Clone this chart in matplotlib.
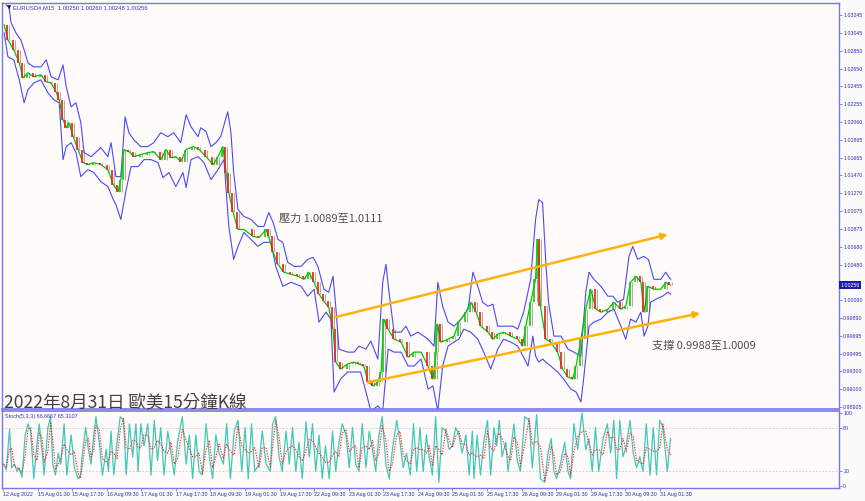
import matplotlib
matplotlib.use("Agg")
import matplotlib.pyplot as plt
import pandas as pd

plt.rcParams["font.family"] = ["Noto Sans CJK TC", "DejaVu Sans"]

# ---- data: x = 15-minute bar number counted from 12 Aug 2022 ----
price_bar = [2, 9, 20, 30, 37, 46, 57, 70, 80, 89, 98, 104, 111, 117, 122, 130, 139, 148, 157, 168,
             181, 194, 204, 213, 218, 224, 233, 242, 255, 268, 279, 292, 302, 311, 320, 329, 339, 352, 363, 376,
             389, 398, 407, 413, 418, 426, 435, 446, 463, 474, 487, 492, 500, 509, 520, 533, 546, 557, 566, 576,
             585, 594, 603, 611, 616, 625, 638, 650, 659, 668, 676, 685, 694, 700, 705, 713, 724, 737, 750, 761,
             774, 787, 796, 802, 804, 811, 824, 835, 844, 857, 866, 876, 885, 898, 907, 916, 927, 940, 953, 962,
             968, 977, 986, 990, 995, 1005, 1014, 1027, 1036, 1046, 1055, 1061, 1070, 1079, 1088, 1098, 1107, 1120, 1131, 1144,
             1153, 1162, 1172, 1181, 1187, 1194, 1205, 1218, 1227, 1236]
price = [1.03135, 1.02969, 1.02859, 1.02715, 1.02549, 1.02605, 1.02561, 1.02583, 1.02505, 1.02494,
         1.02395, 1.02307, 1.02086, 1.01997, 1.02053, 1.01898, 1.01755, 1.01611, 1.01589, 1.01611,
         1.01589, 1.01534, 1.01368, 1.01291, 1.01423, 1.01755, 1.01733, 1.01677, 1.01699, 1.01721,
         1.01733, 1.01644, 1.01755, 1.01666, 1.01677, 1.01622, 1.01755, 1.01788, 1.01755, 1.01677,
         1.01589, 1.01677, 1.01788, 1.01501, 1.01280, 1.01059, 1.00871, 1.00871, 1.00794, 1.00783,
         1.00871, 1.00794, 1.00617, 1.00485, 1.00397, 1.00375, 1.00353, 1.00319, 1.00397, 1.00286,
         1.00154, 1.00077, 1.00010, 0.99767, 0.99403, 0.99326, 0.99381, 0.99403, 0.99381, 0.99359,
         0.99182, 0.99138, 0.99182, 0.99293, 0.99878, 0.99767, 0.99657, 0.99624, 0.99458, 0.99513,
         0.99513, 0.99359, 0.99215, 0.99513, 0.99823, 0.99624, 0.99657, 0.99690, 0.99845, 0.99955,
         1.00065, 0.99955, 0.99800, 0.99734, 0.99657, 0.99712, 0.99734, 0.99690, 0.99657, 0.99580,
         0.99800, 1.00065, 1.00319, 1.00761, 1.00021, 0.99657, 0.99624, 0.99513, 0.99326, 0.99237,
         0.99215, 0.99359, 0.99657, 0.99988, 1.00209, 0.99988, 0.99955, 0.99988, 1.00065, 0.99988,
         1.00021, 1.00286, 1.00353, 1.00286, 0.99955, 1.00242, 1.00209, 1.00209, 1.00286, 1.00253]

upper_bar = [6, 11, 15, 24, 33, 39, 46, 57, 70, 80, 89, 102, 111, 117, 126, 135, 144, 150, 163, 181,
             194, 200, 209, 218, 226, 233, 242, 255, 268, 279, 292, 305, 316, 329, 339, 348, 361, 366, 376, 385,
             394, 403, 416, 422, 427, 435, 446, 459, 472, 483, 492, 500, 509, 518, 527, 539, 552, 564, 574, 583,
             594, 603, 611, 616, 622, 638, 650, 659, 672, 681, 694, 703, 709, 714, 724, 737, 746, 755, 768, 779,
             787, 798, 805, 814, 824, 835, 848, 861, 870, 879, 888, 898, 907, 916, 931, 944, 953, 964, 977, 986,
             992, 999, 1005, 1010, 1020, 1033, 1046, 1057, 1070, 1079, 1085, 1094, 1107, 1120, 1129, 1138, 1149, 1159, 1166, 1175,
             1186, 1195, 1205, 1218, 1227, 1236]
upper_band = [1.03355, 1.03333, 1.03157, 1.03046, 1.02969, 1.02859, 1.02715, 1.02671, 1.02671, 1.02748,
              1.02561, 1.02527, 1.02693, 1.02450, 1.02229, 1.02273, 1.02053, 1.01721, 1.01677, 1.01777,
              1.01677, 1.01832, 1.01456, 1.01456, 1.02119, 1.01942, 1.01865, 1.01788, 1.01788, 1.01832,
              1.01942, 1.01898, 1.01942, 1.01832, 1.02141, 1.02008, 1.01898, 1.01997, 1.01953, 1.01788,
              1.01832, 1.01898, 1.02174, 1.01942, 1.01501, 1.01092, 1.01015, 1.00982, 1.00904, 1.00904,
              1.01059, 1.00948, 1.00761, 1.00728, 1.00507, 1.00463, 1.00463, 1.00540, 1.00562, 1.00463,
              1.00209, 1.00176, 1.00353, 1.00021, 0.99546, 0.99513, 0.99513, 0.99580, 0.99546, 0.99635,
              0.99436, 1.00286, 1.00485, 1.00209, 0.99734, 0.99734, 0.99800, 0.99690, 0.99734, 0.99690,
              0.99657, 0.99580, 1.00286, 1.00021, 0.99845, 0.99800, 0.99878, 0.99988, 1.00397, 1.00242,
              1.00065, 1.00021, 1.00043, 0.99800, 0.99800, 0.99800, 0.99767, 0.99955, 1.00319, 1.00982,
              1.01202, 1.01169, 1.00507, 1.00065, 0.99690, 0.99690, 0.99546, 0.99513, 0.99469, 1.00176,
              1.00397, 1.00319, 1.00242, 1.00132, 1.00132, 1.00065, 1.00099, 1.00573, 1.00684, 1.00540,
              1.00573, 1.00540, 1.00319, 1.00319, 1.00397, 1.00319]

lower_bar = [2, 9, 20, 30, 39, 46, 57, 70, 83, 94, 104, 111, 117, 126, 135, 144, 157, 168, 181, 194,
             204, 209, 218, 228, 237, 250, 261, 274, 287, 296, 307, 320, 333, 339, 348, 361, 372, 385, 398, 409,
             418, 427, 435, 446, 459, 472, 483, 496, 505, 518, 533, 552, 564, 576, 585, 598, 607, 613, 625, 638,
             650, 662, 672, 681, 694, 703, 713, 724, 737, 750, 761, 774, 787, 796, 805, 814, 824, 835, 844, 853,
             866, 879, 890, 903, 916, 927, 940, 953, 959, 972, 981, 986, 992, 999, 1005, 1014, 1027, 1038, 1051, 1061,
             1070, 1075, 1085, 1094, 1107, 1120, 1131, 1144, 1153, 1162, 1172, 1181, 1187, 1194, 1199, 1209, 1221, 1231, 1236]
lower_band = [1.03046, 1.02781, 1.02748, 1.02527, 1.02273, 1.02417, 1.02494, 1.02527, 1.02384, 1.02307,
              1.02273, 1.01644, 1.01788, 1.01832, 1.01721, 1.01456, 1.01534, 1.01501, 1.01401, 1.01346,
              1.01202, 1.01147, 1.00982, 1.01313, 1.01567, 1.01567, 1.01644, 1.01644, 1.01611, 1.01445,
              1.01501, 1.01346, 1.01501, 1.01335, 1.01644, 1.01677, 1.01611, 1.01423, 1.01534, 1.01644,
              1.00904, 1.00540, 1.00684, 1.00838, 1.00761, 1.00684, 1.00728, 1.00728, 1.00463, 1.00242,
              1.00286, 1.00242, 1.00132, 1.00209, 0.99845, 0.99955, 0.99878, 0.99072, 0.99215, 0.99293,
              0.99293, 0.99293, 0.99072, 0.98862, 0.98917, 0.98862, 0.99546, 0.99513, 0.99513, 0.99359,
              0.99359, 0.99436, 0.99104, 0.99138, 0.98862, 0.99359, 0.99580, 0.99624, 0.99657, 0.99767,
              0.99734, 0.99657, 0.99513, 0.99326, 0.99546, 0.99657, 0.99624, 0.99580, 0.99513, 0.99359,
              0.99690, 0.99469, 0.99403, 0.99436, 0.99403, 0.99359, 0.99293, 0.99215, 0.99104, 0.99072,
              0.98961, 0.99215, 0.99800, 0.99845, 0.99878, 0.99955, 0.99988, 0.99800, 0.99657, 0.99878,
              0.99845, 0.99955, 0.99690, 0.99800, 1.00065, 1.00099, 1.00132, 1.00176, 1.00154]

stoch_bar = [1, 6, 12, 16, 21, 26, 30, 35, 41, 46, 51, 57, 63, 67, 72, 76, 83, 88, 92, 97,
             102, 107, 113, 118, 126, 132, 139, 143, 147, 153, 158, 163, 168, 172, 178, 184, 191, 195, 200, 205,
             211, 217, 223, 228, 234, 240, 246, 250, 255, 261, 268, 274, 280, 286, 292, 298, 305, 311, 317, 323,
             332, 339, 345, 351, 357, 363, 369, 376, 382, 388, 394, 400, 408, 414, 421, 428, 435, 442, 448, 454,
             460, 466, 474, 480, 487, 495, 499, 505, 511, 517, 524, 530, 536, 542, 548, 554, 561, 567, 573, 579,
             585, 591, 597, 604, 610, 616, 622, 628, 635, 641, 647, 653, 659, 665, 672, 678, 684, 690, 696, 702,
             709, 715, 721, 729, 735, 741, 747, 754, 760, 766, 772, 778, 784, 789, 795, 801, 807, 813, 820, 826,
             832, 838, 844, 850, 857, 863, 869, 872, 878, 884, 890, 897, 903, 909, 914, 919, 924, 931, 935, 940,
             946, 952, 958, 966, 974, 980, 988, 995, 1003, 1009, 1015, 1020, 1025, 1032, 1040, 1046, 1051, 1057, 1064, 1072,
             1079, 1085, 1091, 1097, 1103, 1111, 1119, 1125, 1131, 1136, 1142, 1148, 1154, 1161, 1167, 1173, 1179, 1185, 1191, 1198,
             1204, 1210, 1216, 1222, 1230, 1236]
stoch_k = [30, 22, 78, 25, 30, 20, 25, 12, 70, 85, 75, 10, 60, 85, 50, 15, 80, 95, 30, 15,
           45, 30, 85, 15, 70, 25, 10, 12, 45, 80, 50, 30, 70, 95, 60, 15, 50, 20, 75, 15,
           60, 95, 90, 15, 85, 40, 85, 20, 85, 55, 85, 15, 90, 35, 80, 15, 75, 45, 15, 60,
           95, 30, 70, 10, 70, 20, 15, 85, 40, 10, 70, 45, 30, 85, 10, 75, 90, 20, 80, 10,
           85, 20, 30, 75, 30, 20, 85, 95, 40, 20, 75, 30, 80, 20, 60, 10, 88, 40, 85, 20,
           70, 10, 55, 10, 75, 20, 60, 85, 70, 25, 80, 30, 20, 85, 25, 75, 50, 20, 70, 95,
           30, 10, 50, 90, 60, 25, 45, 15, 85, 20, 80, 20, 70, 40, 15, 95, 5, 80, 75, 50,
           55, 80, 70, 45, 70, 15, 75, 10, 70, 15, 60, 90, 15, 80, 55, 90, 40, 60, 20, 50,
           85, 35, 20, 95, 90, 25, 98, 10, 5, 45, 65, 20, 10, 30, 60, 20, 10, 85, 50, 100,
           50, 65, 20, 80, 20, 65, 85, 45, 90, 10, 90, 40, 55, 90, 45, 25, 40, 20, 85, 15,
           80, 15, 90, 80, 20, 65]

price_ticks = [1.03245, 1.03045, 1.02850, 1.02650, 1.02455, 1.02255, 1.02060, 1.01865, 1.01665, 1.01470,
               1.01270, 1.01075, 1.00875, 1.00680, 1.00480, 1.00285, 1.00090, 0.99890, 0.99695, 0.99495,
               0.99300, 0.99100, 0.98905]
stoch_ticks = [100, 80, 20, 0]
date_labels = ["12 Aug 2022", "15 Aug 01:30", "15 Aug 17:30", "16 Aug 09:30", "17 Aug 01:30",
               "17 Aug 17:30", "18 Aug 09:30", "19 Aug 01:30", "19 Aug 17:30", "22 Aug 09:30",
               "23 Aug 01:30", "23 Aug 17:30", "24 Aug 09:30", "25 Aug 01:30", "25 Aug 17:30",
               "26 Aug 09:30", "29 Aug 01:30", "29 Aug 17:30", "30 Aug 09:30", "31 Aug 01:30"]
bars_per_label = 64
last_price = 1.00256

# drawn channel lines: (bar, price) start and end
resist_line = [(615, 0.99900), (1231, 1.00816)]
support_line = [(676, 0.99179), (1291, 0.99944)]

# ---- styling ----
frame = "#7878e6"
tick_col = "#2a2ab8"
bg = "#fffbfa"
band_col = "#4a4af5"
small_font = "Liberation Sans"

fig = plt.figure(figsize=(8.65, 5.01), dpi=100, facecolor="#fbfbfb")
ax = fig.add_axes([0.0023, 0.1836, 0.9677, 0.8104], facecolor=bg)
ax2 = fig.add_axes([0.0023, 0.026, 0.9677, 0.1536], facecolor=bg)

xmin, xmax = -2, 1548
for a in (ax, ax2):
    a.set_xlim(xmin, xmax)
    for s in a.spines.values():
        s.set_color(frame)
        s.set_linewidth(1.0)
    a.yaxis.tick_right()
    a.tick_params(axis="y", colors=frame, labelcolor=tick_col, length=2, width=0.6,
                  labelsize=3.8, pad=1)
ax.spines["bottom"].set_linewidth(1.2)
ax2.spines["top"].set_linewidth(1.2)

# ---- price panel ----
ax.set_ylim(0.98883, 1.03378)
ax.plot(upper_bar, upper_band, color=band_col, lw=0.8)
ax.plot(lower_bar, lower_band, color=band_col, lw=0.8)
ax.plot(price_bar, price, color="#00c800", lw=0.9, zorder=3)
for i in range(1, len(price)):
    up = price[i] >= price[i - 1]
    ax.vlines(price_bar[i] - 2, price[i - 1], price[i], color="#19c419" if up else "#e8201a",
              lw=1.2, zorder=4)
    ax.vlines(price_bar[i] + 2, price[i - 1], price[i], color="#5a3a1a", lw=0.5, alpha=0.6, zorder=4)

for line in (resist_line, support_line):
    ax.annotate("", xy=line[1], xytext=line[0],
                arrowprops=dict(arrowstyle="-|>", color="#ffb20a", lw=1.8, mutation_scale=9,
                                shrinkA=0, shrinkB=0), zorder=5)

# the 1.00285 label sits under the current-price box, so only its tick is kept
ax.set_yticks(price_ticks)
ax.set_yticklabels(["" if abs(t - last_price) < 0.0005 else f"{t:.5f}" for t in price_ticks])
ax.set_xticks([])

ax.text(1.0015, last_price, f"{last_price:.5f}", transform=ax.get_yaxis_transform(),
        fontsize=3.8, color="white", va="center", ha="left", family=small_font,
        bbox=dict(boxstyle="square,pad=0.2", fc="#1c1ca8", ec="none"), clip_on=False, zorder=10)

ax.text(0.006, 0.988, "▼", transform=ax.transAxes, fontsize=4, color="#1c1c80",
        family="DejaVu Sans", va="center")
ax.text(0.013, 0.988, "EURUSD#,M15  1.00250 1.00260 1.00248 1.00256", transform=ax.transAxes,
        fontsize=4.2, color="#3a3aa0", family=small_font, va="center")

ax.text(511, 1.00993, "壓力 1.0089至1.0111", fontsize=8.0, color="#505050", va="center")
ax.text(1201, 0.99580, "支撐 0.9988至1.0009", fontsize=8.0, color="#505050", va="center")
ax.text(0.002, 0.016, "2022年8月31日 歐美15分鐘K線", transform=ax.transAxes,
        fontsize=12.6, color="#404040", va="center")

# ---- stochastic panel ----
ax2.set_ylim(-2.7, 102.7)
for lvl in (80, 20):
    ax2.axhline(lvl, color="#c8c8c8", lw=0.6, ls=(0, (2, 2)))
signal = pd.Series(stoch_k).rolling(2, min_periods=1).mean()
ax2.plot(stoch_bar, stoch_k, color="#40c8b8", lw=0.9)
ax2.plot(stoch_bar, signal, color="#e83030", lw=0.8, ls=(0, (1.2, 1.2)))
ax2.set_yticks(stoch_ticks)
ax2.set_yticklabels([str(t) for t in stoch_ticks])
ax2.text(0.003, 0.93, "Stoch(5,3,3) 66.6667 65.3107", transform=ax2.transAxes,
         fontsize=4.0, color="#3a3ab0", family=small_font, va="center")

ax2.set_xticks([k * bars_per_label for k in range(len(date_labels))])
ax2.set_xticklabels(date_labels)
ax2.tick_params(axis="x", colors=frame, labelcolor=tick_col, length=2, width=0.6,
                labelsize=3.8, pad=1)
for lab in ax2.get_xticklabels():
    lab.set_horizontalalignment("left")
for lab in ax2.get_xticklabels() + ax.get_yticklabels() + ax2.get_yticklabels():
    lab.set_family(small_font)

fig.savefig("out.png", dpi=100, facecolor=fig.get_facecolor())
